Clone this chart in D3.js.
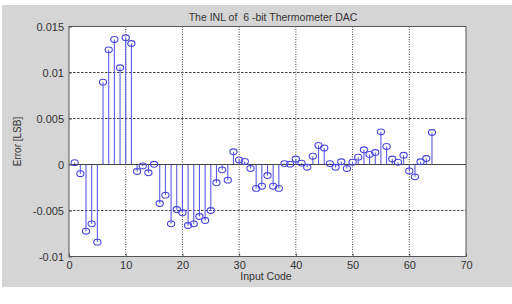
<!DOCTYPE html>
<html>
<head>
<meta charset="utf-8">
<script src="https://cdn.jsdelivr.net/npm/d3@7"></script>
<style>
  body { margin: 0; background: #fff; }
  text { font-family: "Liberation Sans", Arial, sans-serif; }
</style>
</head>
<body>
<div id="chart"></div>
<script>
"use strict";

// input codes 1..64 and the INL error
var codes = d3.range(1, 65);
var inl = [
  0.0002, -0.001, -0.00725, -0.00645, -0.00844, 0.00895, 0.01246, 0.01359,
  0.01051, 0.01377, 0.01315, -0.00076, -0.00015, -0.0009, 0.00002, -0.00424,
  -0.00333, -0.00645, -0.00489, -0.00525, -0.00663, -0.00645, -0.00565, -0.00609,
  -0.005, -0.00199, -0.00058, -0.0017, 0.00138, 0.0005, 0.00033, -0.00043,
  -0.0026, -0.00236, -0.0012, -0.00236, -0.0026, 0.0001, 0.00004, 0.0006,
  0.00015, -0.0003, 0.0009, 0.00207, 0.0018, 0.0001, -0.0003, 0.0003,
  -0.00043, 0.00025, 0.0008, 0.0016, 0.0011, 0.0013, 0.00355, 0.00196,
  0.0006, 0.00025, 0.001, -0.0007, -0.00134, 0.0003, 0.00065, 0.00348
];
var xTicks = [0, 10, 20, 30, 40, 50, 60, 70];
var yTicks = [-0.01, -0.005, 0, 0.005, 0.01, 0.015];
var yTickLabels = ["-0.01", "-0.005", "0", "0.005", "0.01", "0.015"];

var width = 512, height = 304;
var margin = {top: 26.5, right: 46, bottom: 47.5, left: 69};
var w = width - margin.left - margin.right;
var h = height - margin.top - margin.bottom;

var svg = d3.select("#chart").append("svg")
  .attr("width", width)
  .attr("height", height);

// grey figure background
svg.append("rect")
  .attr("x", 2).attr("y", 5)
  .attr("width", width - 2).attr("height", 282)
  .attr("fill", "#d5d5d5");

var g = svg.append("g")
  .attr("transform", "translate(" + margin.left + "," + margin.top + ")");

var x = d3.scaleLinear().domain([0, 70]).range([0, w]);
var y = d3.scaleLinear().domain([-0.01, 0.015]).range([h, 0]);

g.append("rect")
  .attr("width", w).attr("height", h)
  .attr("fill", "#fff");

// grid
g.selectAll(".vgrid")
  .data(xTicks.slice(1, -1))
  .enter().append("line")
  .attr("x1", function(d) { return x(d); })
  .attr("x2", function(d) { return x(d); })
  .attr("y1", 0).attr("y2", h)
  .attr("stroke", "#444")
  .attr("stroke-width", 1)
  .attr("stroke-dasharray", "1,1.5");

g.selectAll(".hgrid")
  .data(yTicks.filter(function(d) { return d !== 0 && d !== -0.01 && d !== 0.015; }))
  .enter().append("line")
  .attr("x1", 0).attr("x2", w)
  .attr("y1", function(d) { return y(d); })
  .attr("y2", function(d) { return y(d); })
  .attr("stroke", "#444")
  .attr("stroke-width", 1)
  .attr("stroke-dasharray", "2.5,1.5");

// stems
var data = codes.map(function(c, i) { return {code: c, value: inl[i]}; });

g.selectAll(".stem")
  .data(data)
  .enter().append("line")
  .attr("x1", function(d) { return x(d.code); })
  .attr("x2", function(d) { return x(d.code); })
  .attr("y1", y(0))
  .attr("y2", function(d) { return y(d.value); })
  .attr("stroke", "#5a5ae6")
  .attr("stroke-width", 1.1);

// baseline
g.append("line")
  .attr("x1", 0).attr("x2", w)
  .attr("y1", y(0)).attr("y2", y(0))
  .attr("stroke", "#444")
  .attr("stroke-width", 1);

g.selectAll(".marker")
  .data(data)
  .enter().append("ellipse")
  .attr("cx", function(d) { return x(d.code); })
  .attr("cy", function(d) { return y(d.value); })
  .attr("rx", 3.6).attr("ry", 2.9)
  .attr("fill", "none")
  .attr("stroke", "#4646dc")
  .attr("stroke-width", 1.1);

// axes box
g.append("rect")
  .attr("width", w).attr("height", h)
  .attr("fill", "none")
  .attr("stroke", "#555")
  .attr("stroke-width", 1);

var xAxis = g.append("g")
  .attr("transform", "translate(0," + h + ")")
  .call(d3.axisBottom(x).tickValues(xTicks).tickSizeInner(-3).tickSizeOuter(0).tickPadding(5));
var yAxis = g.append("g")
  .call(d3.axisLeft(y).tickValues(yTicks).tickSizeInner(-3).tickSizeOuter(0).tickPadding(5)
    .tickFormat(function(d, i) { return yTickLabels[i]; }));
[xAxis, yAxis].forEach(function(a) {
  a.select(".domain").remove();
  a.selectAll("line").attr("stroke", "#555");
  a.selectAll("text")
    .attr("fill", "#333")
    .style("font-size", "11px")
    .style("font-family", "'Liberation Sans', Arial, sans-serif");
});

// texts
svg.append("text")
  .attr("x", 273).attr("y", 21)
  .attr("text-anchor", "middle")
  .attr("fill", "#333")
  .style("font-size", "10.5px")
  .text("The INL of  6 -bit Thermometer DAC")
  .attr("xml:space", "preserve");

svg.append("text")
  .attr("x", 266).attr("y", 280)
  .attr("text-anchor", "middle")
  .attr("fill", "#333")
  .style("font-size", "10.5px")
  .text("Input Code");

svg.append("text")
  .attr("transform", "translate(21," + (margin.top + h / 2) + ") rotate(-90)")
  .attr("text-anchor", "middle")
  .attr("fill", "#333")
  .style("font-size", "10px")
  .text("Error [LSB]");
</script>
</body>
</html>
